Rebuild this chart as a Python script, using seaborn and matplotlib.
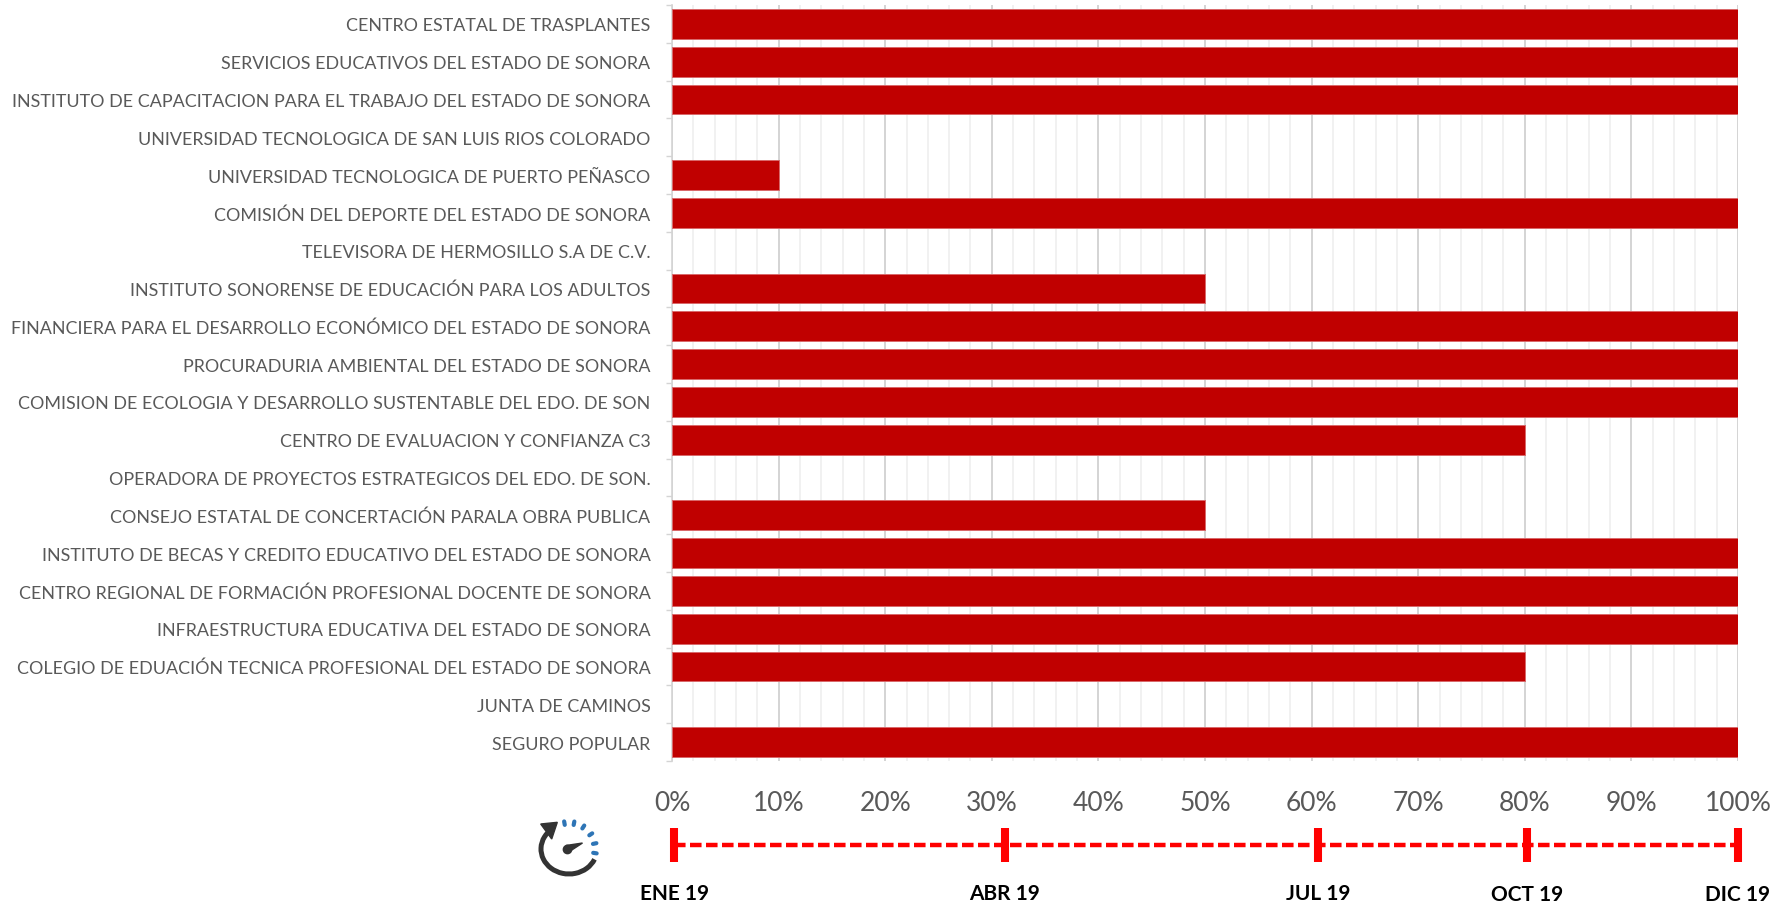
import numpy as np
import matplotlib
matplotlib.use("Agg")
import matplotlib.pyplot as plt
from matplotlib.patches import Arc, Polygon
from matplotlib.ticker import MultipleLocator, FuncFormatter
import seaborn as sns

categories = [
    "CENTRO ESTATAL DE TRASPLANTES",
    "SERVICIOS EDUCATIVOS DEL ESTADO DE SONORA",
    "INSTITUTO DE CAPACITACION PARA EL TRABAJO DEL ESTADO DE SONORA",
    "UNIVERSIDAD TECNOLOGICA DE SAN LUIS RIOS COLORADO",
    "UNIVERSIDAD TECNOLOGICA DE PUERTO PEÑASCO",
    "COMISIÓN DEL DEPORTE DEL ESTADO DE SONORA",
    "TELEVISORA DE HERMOSILLO S.A DE C.V.",
    "INSTITUTO SONORENSE DE EDUCACIÓN PARA LOS ADULTOS",
    "FINANCIERA PARA EL DESARROLLO ECONÓMICO DEL ESTADO DE SONORA",
    "PROCURADURIA AMBIENTAL DEL ESTADO DE SONORA",
    "COMISION DE ECOLOGIA Y DESARROLLO SUSTENTABLE DEL EDO. DE SON",
    "CENTRO DE EVALUACION Y CONFIANZA C3",
    "OPERADORA DE PROYECTOS ESTRATEGICOS DEL EDO. DE SON.",
    "CONSEJO ESTATAL DE CONCERTACIÓN PARALA OBRA PUBLICA",
    "INSTITUTO DE BECAS Y CREDITO EDUCATIVO DEL ESTADO DE SONORA",
    "CENTRO REGIONAL DE FORMACIÓN PROFESIONAL DOCENTE DE SONORA",
    "INFRAESTRUCTURA EDUCATIVA DEL ESTADO DE SONORA",
    "COLEGIO DE EDUACIÓN TECNICA PROFESIONAL DEL ESTADO DE SONORA",
    "JUNTA DE CAMINOS",
    "SEGURO POPULAR",
]
values = [100, 100, 100, 0, 10, 100, 0, 50, 100, 100, 100, 80, 0, 50, 100, 100, 100, 80, 0, 100]
timeline_positions = [0.2, 31.3, 60.7, 80.4, 100.2]
timeline_labels = ["ENE 19", "ABR 19", "JUL 19", "OCT 19", "DIC 19"]

W, H = 1788, 904
sns.set_theme(style="white")
plt.rcParams["font.family"] = ["Lato", "DejaVu Sans"]
fig = plt.figure(figsize=(W / 100, H / 100), dpi=100, facecolor="white")

def px_axes(x0, y0, x1, y1, **kw):
    return fig.add_axes([x0 / W, 1 - y1 / H, (x1 - x0) / W, (y1 - y0) / H], **kw)

ax = px_axes(672, 6, 1738, 762)
sns.barplot(x=values, y=categories, color="#C00000", saturation=1, width=0.79,
            orient="h", ax=ax, edgecolor="#D9696B", linewidth=0.7, zorder=3)
for p in ax.patches:
    if p.get_width() == 0:
        p.set_visible(False)
ax.set_xlim(0, 100)
ax.set_xlabel("")
ax.set_ylabel("")
ax.xaxis.set_major_locator(MultipleLocator(10))
ax.xaxis.set_minor_locator(MultipleLocator(2))
ax.xaxis.set_major_formatter(FuncFormatter(lambda v, _: f"{v:.0f}%"))
ax.grid(True, which="major", axis="x", color="#D4D4D4", lw=1.4, zorder=0)
ax.grid(True, which="minor", axis="x", color="#EFEFEF", lw=1.2, zorder=0)
ax.set_axisbelow(True)
for side in ["top", "right", "bottom"]:
    ax.spines[side].set_visible(False)
ax.spines["left"].set_color("#D4D4D4")
ax.spines["left"].set_linewidth(1.2)
ax.tick_params(axis="x", which="both", length=0, labelsize=19, labelcolor="#595959", pad=21)
ax.set_yticks(np.arange(len(categories)), labels=categories)
ax.set_yticks(np.arange(len(categories) + 1) - 0.5, minor=True)
ax.tick_params(axis="y", which="major", length=0, labelsize=12.9, labelcolor="#595959", pad=15.5)
ax.tick_params(axis="y", which="minor", length=4, width=1, color="#D4D4D4", left=True)

# Timeline below the chart
tl = px_axes(672, 829, 1738, 863)
tl.set_xlim(0, 100)
tl.set_ylim(-1, 1)
tl.patch.set_alpha(0)
for s in tl.spines.values():
    s.set_visible(False)
tl.set_yticks([])
sns.lineplot(x=[timeline_positions[0], timeline_positions[-1]], y=[0, 0], color="#FF0000",
             lw=3.2, ax=tl, linestyle=(0, (2.6, 1.0)), errorbar=None)
tl.vlines(timeline_positions, -1, 1, color="#FF0000", lw=5.8, clip_on=False)
tl.set_xticks(timeline_positions, labels=timeline_labels)
tl.tick_params(axis="x", length=0, pad=15, labelsize=15, labelcolor="black")
for t in tl.get_xticklabels():
    t.set_fontweight("bold")
for tick, extra in zip(tl.xaxis.get_major_ticks(), [0, 0, 0.4, 1.0, 1.0]):
    tick.set_pad(15 + extra)

# Gauge icon
ic = px_axes(530, 812, 610, 884)
ic.set_xlim(530, 610)
ic.set_ylim(884, 812)
ic.axis("off")
cx, cy = 569, 850
ic.add_patch(Arc((cx, cy), 56, 50, theta1=22, theta2=232, color="#333333", lw=3.6))
ic.add_patch(Polygon([[540.7, 825], [557.3, 823.3], [551.7, 840]], closed=True, color="#333333"))
for deg in [-100, -79, -57, -34, -12, 9]:
    a = np.deg2rad(deg)
    ic.plot([cx + 24.5 * np.cos(a), cx + 28 * np.cos(a)], [cy + 24.5 * np.sin(a), cy + 28 * np.sin(a)],
            color="#2E75B6", lw=3, solid_capstyle="round")
ic.add_patch(Polygon([[566, 846.5], [582.5, 844], [568, 853.5]], closed=True, color="#333333"))
ic.plot([567], [850], "o", color="#333333", ms=6)

fig.savefig("out.png", dpi=100)
